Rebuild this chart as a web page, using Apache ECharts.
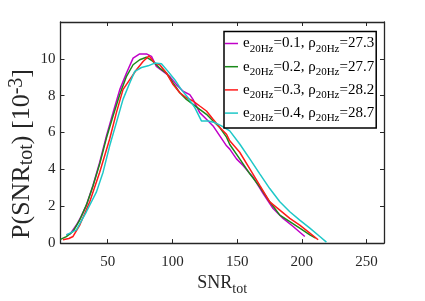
<!DOCTYPE html>
<html><head><meta charset="utf-8">
<script src="https://cdn.jsdelivr.net/npm/echarts@6/dist/echarts.min.js"></script>
<style>html,body{margin:0;padding:0;background:#fff}#c{width:425px;height:301px}</style>
</head><body><div id="c"></div>
<script>
const xTicks = [50, 100, 150, 200, 250];
const yTicks = [0, 2, 4, 6, 8, 10];
const eccs = ['0.1', '0.2', '0.3', '0.4'];
const rhos = ['27.3', '27.7', '28.2', '28.7'];
const colors = ['#c000c8', '#1a8a1a', '#ff1a1a', '#1ec8c8'];

const snr1 = [18, 21, 25.8, 29.5, 33.5, 38.6, 43.8, 49, 54.1, 59.3, 64.5, 69.6, 74.7, 79.9, 83.8, 87.6, 92.8, 97.9, 103.1, 108.2, 113.4, 115.9, 121.1, 126.3, 131.4, 136.6, 141.8, 144.3, 149.5, 154.6, 162.3, 170.1, 177.8, 185.5, 193.3, 202.3];
const p1 = [0.45, 0.5, 0.98, 1.45, 2.06, 3.13, 4.39, 5.82, 7.08, 8.33, 9.23, 10.04, 10.27, 10.27, 10.13, 9.59, 9.32, 9.05, 8.6, 8.24, 8.06, 7.8, 7.08, 6.72, 6.36, 5.82, 5.28, 5.1, 4.57, 4.21, 3.58, 2.69, 1.88, 1.34, 0.9, 0.36];

const snr2 = [13.5, 18, 23.2, 28, 33.5, 38.6, 43.8, 49, 54.1, 59.3, 64.5, 69.6, 74.7, 79.9, 85, 90.2, 95.4, 100.5, 105.7, 110.8, 116, 121.1, 126.3, 131.4, 136.6, 141.8, 144.3, 152, 159.8, 167.5, 175.2, 183, 190.7, 198.4, 206.2, 210.7];
const p2 = [0.2, 0.35, 0.63, 1.2, 2.06, 3.1, 4.3, 5.7, 6.9, 8.06, 9.05, 9.68, 9.95, 10.09, 9.86, 9.5, 9.23, 8.69, 8.16, 7.8, 7.53, 7.26, 6.99, 6.63, 6.27, 5.75, 5.35, 4.57, 3.76, 3.05, 2.24, 1.52, 1.17, 0.81, 0.45, 0.27];

const snr3 = [15.4, 20, 23.2, 28.4, 36.1, 43.8, 51.5, 56.7, 61.8, 67, 72.2, 77.3, 81.9, 86.3, 90.2, 95.4, 100.5, 105.7, 110.8, 116, 121.1, 126.3, 131.4, 136.6, 141.8, 144.3, 152, 159.8, 167.5, 175.2, 183, 190.7, 198.4, 206.2, 212.6];
const p3 = [0.18, 0.25, 0.36, 0.98, 2.24, 3.85, 5.65, 7.08, 8.33, 8.87, 9.41, 9.86, 10.16, 9.77, 9.68, 9.23, 8.6, 8.16, 7.89, 7.71, 7.44, 7.17, 6.72, 6.27, 5.91, 5.55, 4.93, 4.03, 3.13, 2.24, 1.79, 1.34, 0.98, 0.54, 0.18];

const snr4 = [18, 25.8, 33.5, 41.3, 46.4, 51.5, 56.7, 61.8, 67, 70.9, 76.1, 81.2, 86.3, 91.5, 96.6, 101.8, 106.9, 112.1, 117.3, 122.4, 127.6, 132.7, 137.9, 144.3, 152, 159.8, 167.5, 175.2, 183, 190.7, 198.4, 206.2, 213.9, 219];
const p4 = [0.45, 0.72, 1.7, 2.78, 3.85, 5.28, 6.54, 7.8, 8.69, 9.32, 9.53, 9.62, 9.77, 9.73, 9.32, 8.87, 8.33, 7.89, 7.35, 6.63, 6.63, 6.54, 6.36, 6.09, 5.38, 4.57, 3.76, 2.96, 2.24, 1.7, 1.25, 0.81, 0.36, 0.05];

const SNRS = [snr1, snr2, snr3, snr4];
const PS = [p1, p2, p3, p4];

const FONT = "'Liberation Serif', 'Times New Roman', serif";
const AX = '#262626';

const names = eccs.map((e, i) => 'e=' + e + ', ρ=' + rhos[i]);

const series = names.map((n, i) => ({
  name: n,
  type: 'line',
  xAxisIndex: 0,
  yAxisIndex: 0,
  symbol: 'none',
  showSymbol: false,
  smooth: false,
  lineStyle: { color: colors[i], width: 1.5 },
  itemStyle: { color: colors[i] },
  data: SNRS[i].map((x, j) => [x, PS[i][j]]),
  z: 2
}));

const axisCommon = {
  axisLine: { show: true, onZero: false, lineStyle: { color: AX, width: 1.3 } },
  splitLine: { show: false },
  axisTick: { inside: true, length: 4, lineStyle: { color: AX, width: 1 } }
};

const option = {
  animation: false,
  backgroundColor: '#fff',
  grid: { left: 60.5, right: 41, top: 22, bottom: 56, containLabel: false },
  xAxis: [
    Object.assign({}, axisCommon, {
      type: 'value', position: 'bottom', min: 13.5, max: 263.5,
      axisTick: Object.assign({}, axisCommon.axisTick, { customValues: xTicks }),
      axisLabel: { customValues: xTicks, color: AX, fontFamily: FONT, fontSize: 15, margin: 11 },
      name: '{m|SNR}{s|tot}', nameLocation: 'middle', nameGap: 24,
      nameTextStyle: {
        color: AX, fontFamily: FONT,
        rich: {
          m: { fontFamily: FONT, fontSize: 18, lineHeight: 26, color: AX },
          s: { fontFamily: FONT, fontSize: 14, lineHeight: 14, verticalAlign: 'bottom', color: AX }
        }
      }
    }),
    Object.assign({}, axisCommon, {
      type: 'value', position: 'top', min: 13.5, max: 263.5,
      axisTick: Object.assign({}, axisCommon.axisTick, { customValues: xTicks }),
      axisLabel: { show: false }
    })
  ],
  yAxis: [
    Object.assign({}, axisCommon, {
      type: 'value', position: 'left', min: 0, max: 12,
      axisTick: Object.assign({}, axisCommon.axisTick, { customValues: yTicks }),
      axisLabel: { customValues: yTicks, color: AX, fontFamily: FONT, fontSize: 15, margin: 5, padding: [4, 0, 0, 0] }
    }),
    Object.assign({}, axisCommon, {
      type: 'value', position: 'right', min: 0, max: 12,
      axisTick: Object.assign({}, axisCommon.axisTick, { customValues: yTicks }),
      axisLabel: { show: false }
    })
  ],
  legend: {
    orient: 'vertical',
    left: 224, top: 31.5,
    backgroundColor: '#fff',
    borderColor: '#000', borderWidth: 1.5, borderRadius: 0,
    padding: [1, 2, 4, 1],
    itemGap: 1.2,
    itemWidth: 13, itemHeight: 10,
    icon: 'path://M0,4.25 L13,4.25 L13,5.75 L0,5.75 Z',
    data: names,
    formatter: function (name) {
      const i = names.indexOf(name);
      return '{m|e}{s|20Hz}{m|=' + eccs[i] + ', ρ}{s|20Hz}{m|=' + rhos[i] + '}';
    },
    textStyle: {
      fontFamily: FONT, fontSize: 15, color: '#000', lineHeight: 22,
      rich: {
        m: { fontFamily: FONT, fontSize: 15, lineHeight: 22, color: '#000' },
        s: { fontFamily: FONT, fontSize: 11, lineHeight: 11, verticalAlign: 'bottom', color: '#000' }
      }
    }
  },
  graphic: [{
    type: 'text',
    x: 22, y: 154,
    rotation: Math.PI / 2,
    style: {
      text: '{m|P(SNR}{s|tot}{m|) [10}{u|-3}{m|]}',
      align: 'center', verticalAlign: 'middle',
      fill: AX,
      rich: {
        m: { fontFamily: FONT, fontSize: 26, lineHeight: 30, fill: AX, color: AX },
        s: { fontFamily: FONT, fontSize: 20, lineHeight: 16, verticalAlign: 'bottom', fill: AX, color: AX },
        u: { fontFamily: FONT, fontSize: 20, lineHeight: 16, verticalAlign: 'top', fill: AX, color: AX }
      }
    }
  }],
  series: series
};

const chart = echarts.init(document.getElementById('c'), null, { renderer: 'canvas' });
chart.setOption(option);
</script>
</body></html>
